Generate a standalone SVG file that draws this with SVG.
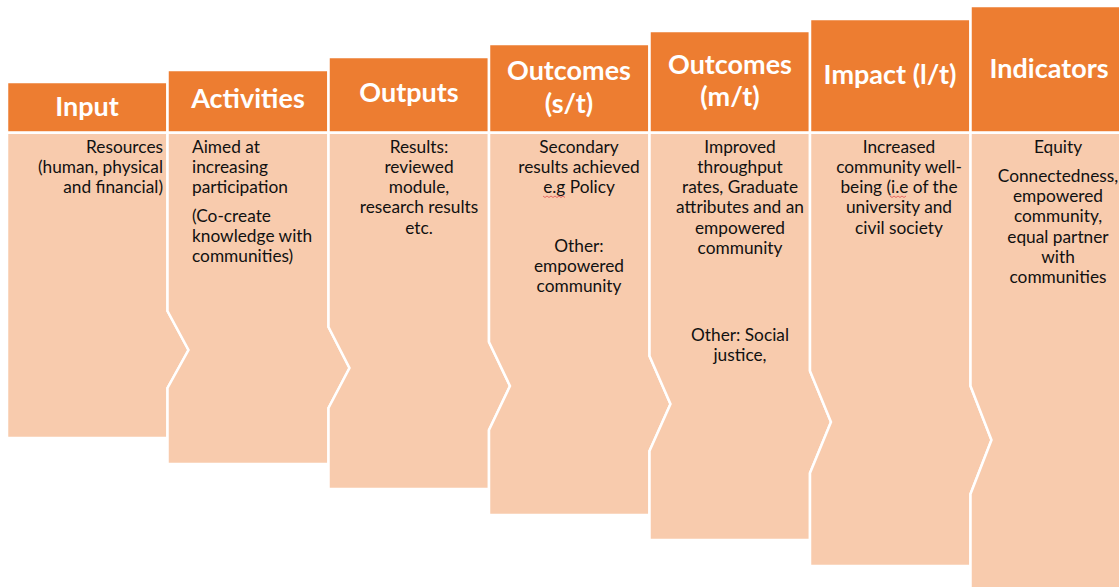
<svg xmlns="http://www.w3.org/2000/svg" width="1119" height="587" viewBox="0 0 1119 587">
  <style>
    .hdr { fill: #ED7D31; stroke: #FFFFFF; stroke-width: 2.5; }
    .body { fill: #F8CBAD; stroke: #FFFFFF; stroke-width: 2.5; stroke-linejoin: miter; }
    .ht { font-family: Lato, "Open Sans", sans-serif; font-weight: bold; font-size: 27px; fill: #FFFFFF; text-anchor: middle; }
    .bt { font-family: Lato, "Open Sans", sans-serif; font-size: 17.3px; fill: #111111; }
    .c { text-anchor: middle; }
    .r { text-anchor: end; }
    .l { text-anchor: start; }
    .sq { fill: none; stroke: #E05050; stroke-width: 0.8; }
  </style>
  <rect width="1119" height="587" fill="#FFFFFF"/>

  <!-- Input -->
  <g id="input">
    <rect class="hdr" x="7" y="82" width="160.5" height="50.7"/>
    <polygon class="body" points="7,132.7 167.5,132.7 167.5,311 188.5,350 167.5,388 167.5,438 7,438"/>
    <text class="ht" x="87" y="116">Input</text>
    <text class="bt r" x="163"><tspan x="163" y="153">Resources</tspan><tspan x="163" y="173">(human, physical</tspan><tspan x="163" y="193">and financial)</tspan></text>
  </g>

  <!-- Activities -->
  <g id="activities">
    <rect class="hdr" x="167.5" y="70" width="161" height="62.7"/>
    <polygon class="body" points="167.5,132.7 328.5,132.7 328.5,327 349.5,368 328.5,408 328.5,464 167.5,464 167.5,388 188.5,350 167.5,311"/>
    <text class="ht" x="248" y="108">Activities</text>
    <text class="bt l"><tspan x="192" y="153">Aimed at</tspan><tspan x="192" y="173">increasing</tspan><tspan x="192" y="193">participation</tspan><tspan x="192" y="222">(Co-create</tspan><tspan x="192" y="242">knowledge with</tspan><tspan x="192" y="262">communities)</tspan></text>
  </g>

  <!-- Outputs -->
  <g id="outputs">
    <rect class="hdr" x="328.5" y="57" width="160.5" height="75.7"/>
    <polygon class="body" points="328.5,132.7 489,132.7 489,342 510,386 489,430 489,489 328.5,489 328.5,408 349.5,368 328.5,327"/>
    <text class="ht" x="409" y="102">Outputs</text>
    <text class="bt c"><tspan x="419" y="153">Results:</tspan><tspan x="419" y="173">reviewed</tspan><tspan x="419" y="193">module,</tspan><tspan x="419" y="213">research results</tspan><tspan x="419" y="234">etc.</tspan></text>
  </g>

  <!-- Outcomes (short term) -->
  <g id="outcomes-st">
    <rect class="hdr" x="489" y="44" width="160.5" height="88.7"/>
    <polygon class="body" points="489,132.7 649.5,132.7 649.5,356 670.5,404 649.5,451 649.5,515 489,515 489,430 510,386 489,342"/>
    <text class="ht" x="569" y="80">Outcomes</text>
    <text class="ht" x="569" y="113">(s/t)</text>
    <text class="bt c"><tspan x="579" y="153">Secondary</tspan><tspan x="579" y="173">results achieved</tspan><tspan x="579" y="193">e.g Policy</tspan><tspan x="579" y="252">Other:</tspan><tspan x="579" y="272">empowered</tspan><tspan x="579" y="292">community</tspan></text>
    <polyline class="sq" points="543,196 545,197.5 547,196 549,197.5 551,196 553,197.5 555,196 557,197.5 559,196 561,197.5 563,196 565,197.5"/>
  </g>

  <!-- Outcomes (medium term) -->
  <g id="outcomes-mt">
    <rect class="hdr" x="649.5" y="31" width="160.5" height="101.7"/>
    <polygon class="body" points="649.5,132.7 810,132.7 810,371 831,422 810,473 810,540 649.5,540 649.5,451 670.5,404 649.5,356"/>
    <text class="ht" x="730" y="74">Outcomes</text>
    <text class="ht" x="730" y="106">(m/t)</text>
    <text class="bt c"><tspan x="740" y="153">Improved</tspan><tspan x="740" y="173">throughput</tspan><tspan x="740" y="193">rates, Graduate</tspan><tspan x="740" y="213">attributes and an</tspan><tspan x="740" y="234">empowered</tspan><tspan x="740" y="254">community</tspan><tspan x="740" y="341">Other: Social</tspan><tspan x="740" y="361">justice,</tspan></text>
  </g>

  <!-- Impact (long term) -->
  <g id="impact">
    <rect class="hdr" x="810" y="19" width="160.5" height="113.7"/>
    <polygon class="body" points="810,132.7 970.5,132.7 970.5,386 991.5,440 970.5,494 970.5,566 810,566 810,473 831,422 810,371"/>
    <text class="ht" x="890" y="84">Impact (l/t)</text>
    <text class="bt c"><tspan x="899" y="153">Increased</tspan><tspan x="899" y="173">community well-</tspan><tspan x="899" y="193">being (i.e of the</tspan><tspan x="899" y="213">university and</tspan><tspan x="899" y="234">civil society</tspan></text>
    <polyline class="sq" points="890,196 892,197.5 894,196 896,197.5 898,196 900,197.5 902,196 904,197.5 906,196"/>
  </g>

  <!-- Indicators -->
  <g id="indicators">
    <rect class="hdr" x="970.5" y="6" width="160" height="126.7"/>
    <polygon class="body" points="970.5,132.7 1130,132.7 1130,600 970.5,600 970.5,494 991.5,440 970.5,386"/>
    <text class="ht" x="1049" y="78">Indicators</text>
    <text class="bt c"><tspan x="1058" y="153">Equity</tspan><tspan x="1058" y="182">Connectedness,</tspan><tspan x="1058" y="202">empowered</tspan><tspan x="1058" y="222">community,</tspan><tspan x="1058" y="243">equal partner</tspan><tspan x="1058" y="263">with</tspan><tspan x="1058" y="283">communities</tspan></text>
  </g>
</svg>
